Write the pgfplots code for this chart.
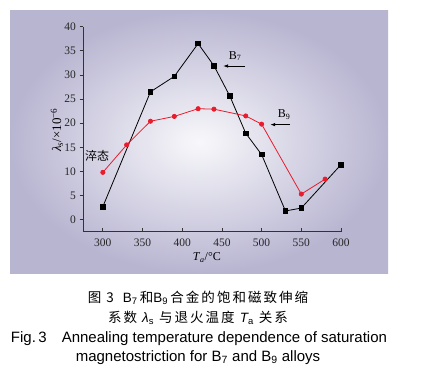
\documentclass[border=0pt]{standalone}
\usepackage{fontspec}
\setmainfont{Liberation Serif}
\newfontfamily\capfont{Liberation Sans}
\newfontfamily\cjk{Noto Sans CJK SC}
\newfontfamily\cjkcap[LetterSpace=15]{Noto Sans CJK SC}
\usepackage{pgfplots}
\pgfplotsset{compat=1.18}
\usetikzlibrary{arrows.meta}
\definecolor{bgedge}{RGB}{184,181,209}
\definecolor{bgcenter}{RGB}{248,248,251}
\definecolor{myred}{RGB}{232,28,44}
\begin{document}
\begin{tikzpicture}
\useasboundingbox (0pt,0pt) rectangle (425pt,-371pt);
\shade[inner color=bgcenter, outer color=bgedge] (10pt,-11pt) rectangle (388pt,-273pt);
\begin{axis}[
  at={(83pt,-231.7pt)}, anchor=south west,
  scale only axis, width=258pt, height=205pt,
  xmin=275, xmax=600, ymin=-2.5, ymax=40,
  axis x line*=bottom, axis y line*=left,
  axis line style={-, line width=1pt, draw=black!80},
  xtick={300,350,...,600}, ytick={0,5,...,40},
  tick align=outside, major tick length=3.5pt,
  major tick style={line width=0.8pt, draw=black!80},
  major x tick style={yshift=3.5pt},
  /pgf/number format/assume math mode=true,
  ticklabel style={font=\fontsize{11.5}{13}\selectfont, text=black!85},
  xlabel={\textit{T}\textsubscript{\textit{a}}/°C},
  ylabel={\textit{λ}\textsubscript{\textit{s}}/×10\textsuperscript{−6}},
  label style={font=\fontsize{12}{14}\selectfont},
  y label style={font=\fontsize{13}{15}\selectfont},
  x label style={at={(axis description cs:0.48,-0.128)}, anchor=center},
  y label style={at={(axis description cs:-0.101,0.496)}, anchor=center},
  clip=false,
]
\addplot[black, line width=0.8pt, mark=square*, mark size=2.3pt] coordinates {
(300,2.7) (360,26.5) (390,29.7) (420,36.5) (440,31.9) (460,25.6) (480,17.9) (500,13.5) (530,1.8) (550,2.4) (600,11.4)};
\addplot[myred, line width=0.8pt, mark=*, mark size=2.1pt] coordinates {
(300,9.8) (330,15.5) (360,20.4) (390,21.4) (420,23.0) (440,22.9) (480,21.5) (500,19.8) (550,5.3) (580,8.4)};
\node[font=\fontsize{12}{14}\selectfont] at (axis cs:466.7,33.9) {B\textsubscript{7}};
\draw[-{Latex[length=5pt,width=3.5pt]}, line width=0.8pt] (axis cs:479.3,31.85) -- (axis cs:451.5,31.85);
\node[font=\fontsize{12}{14}\selectfont] at (axis cs:528.5,21.7) {B\textsubscript{9}};
\draw[-{Latex[length=5pt,width=3.5pt]}, line width=0.8pt] (axis cs:536,19.7) -- (axis cs:510.8,19.7);
\node[font=\cjk\fontsize{12}{14}\selectfont] at (axis cs:292.7,13.2) {淬态};
\end{axis}
\node[font=\cjkcap\fontsize{13.5}{15}\selectfont] at (198pt,-297.5pt) {图 3\enspace\,{\capfont B\textsubscript{7}}\,和{\capfont B\textsubscript{9}}\,合金的饱和磁致伸缩};
\node[font=\cjkcap\fontsize{13.5}{15}\selectfont] at (198pt,-317.5pt) {系数 {\capfont\itshape λ}{\capfont\textsubscript{s}} 与退火温度 {\capfont\itshape T}{\capfont\textsubscript{a}} 关系};
\node[font=\capfont\fontsize{15}{17}\selectfont] at (199pt,-339pt) {Fig.\,3\quad Annealing temperature dependence of saturation};
\node[font=\capfont\fontsize{15}{17}\selectfont] at (198pt,-357.5pt) {magnetostriction for B\textsubscript{7} and B\textsubscript{9} alloys};
\end{tikzpicture}
\end{document}
